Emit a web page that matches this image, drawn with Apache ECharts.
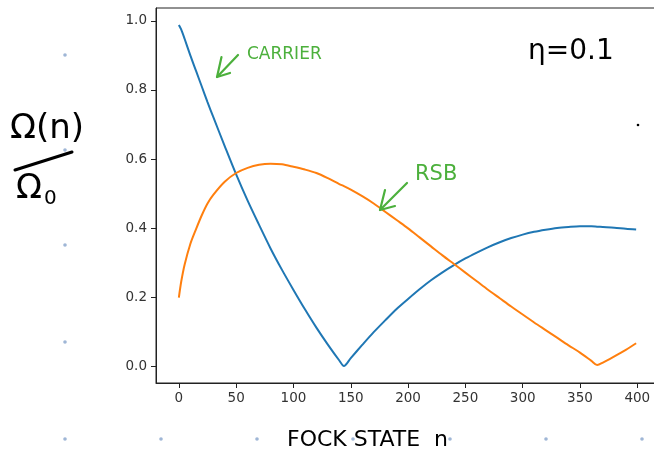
<!DOCTYPE html>
<html><head><meta charset="utf-8">
<script src="https://cdn.jsdelivr.net/npm/echarts@6/dist/echarts.min.js"></script>
<style>html,body{margin:0;padding:0;background:#fff}#c{width:654px;height:453px}</style>
</head><body><div id="c"></div>
<script>
// Fock state n
const fockN = [0,2,5,10,15,20,25,30,40,50,60,70,80,90,100,110,120,130,140,144,150,160,170,180,190,200,210,220,230,240,250,260,270,280,290,300,310,320,330,340,350,360,365,370,380,390,399];
// Carrier Rabi frequency ratio
const carrier = [0.988,0.975,0.948,0.900,0.855,0.810,0.765,0.722,0.638,0.556,0.480,0.410,0.342,0.280,0.222,0.166,0.113,0.064,0.018,0.002,0.025,0.063,0.100,0.134,0.167,0.196,0.224,0.250,0.273,0.294,0.313,0.330,0.346,0.360,0.372,0.382,0.390,0.396,0.401,0.404,0.406,0.406,0.405,0.404,0.402,0.399,0.397];
// Red sideband Rabi frequency ratio
const rsb = [0.200,0.245,0.295,0.355,0.398,0.438,0.472,0.497,0.535,0.560,0.575,0.584,0.587,0.585,0.578,0.570,0.560,0.545,0.528,0.522,0.512,0.493,0.472,0.448,0.424,0.400,0.374,0.348,0.322,0.297,0.272,0.247,0.222,0.198,0.174,0.151,0.128,0.106,0.084,0.062,0.041,0.017,0.005,0.012,0.030,0.049,0.068];
const xTicks = [0,50,100,150,200,250,300,350,400];
const yTicks = [0,0.2,0.4,0.6,0.8,1.0];

const chart = echarts.init(document.getElementById('c'), null, {renderer:'canvas'});
const pairs = a => fockN.map((n,i)=>[n,a[i]]);
const font = 'DejaVu Sans';
const green = '#4cb03c';
const dotColor = '#9fb6d6';
const dots = [[65,55],[65,150],[65,245],[65,342],[65,439],[161,439],[257,439],[353,439],[450,439],[546,439],[642,439]];

const graphic = [];
dots.forEach(d=>graphic.push({type:'circle',shape:{cx:d[0],cy:d[1],r:1.8},style:{fill:dotColor},z:1}));
graphic.push(
  {type:'text',x:10,y:112,style:{text:'Ω(n)',font:'34px "DejaVu Sans"',fill:'#000'},z:10},
  {type:'line',shape:{x1:15,y1:170,x2:72,y2:152},style:{stroke:'#000',lineWidth:3,lineCap:'round'},z:10},
  {type:'text',x:16,y:172,style:{text:'Ω',font:'34px "DejaVu Sans"',fill:'#000'},z:10},
  {type:'text',x:44,y:189,style:{text:'0',font:'20px "DejaVu Sans"',fill:'#000'},z:10},
  {type:'text',x:528,y:38,style:{text:'η=0.1',font:'28px "DejaVu Sans"',fill:'#000'},z:10},
  {type:'circle',shape:{cx:638,cy:125,r:1.3},style:{fill:'#000'},z:10},
  {type:'text',x:247,y:46,style:{text:'CARRIER',font:'17px "DejaVu Sans"',fill:green},z:10},
  {type:'polyline',shape:{points:[[238,55],[217,77]]},style:{stroke:green,lineWidth:2.2,fill:null,lineCap:'round'},z:10},
  {type:'polyline',shape:{points:[[221.5,57],[217,77],[230,73]]},style:{stroke:green,lineWidth:2.2,fill:null,lineCap:'round',lineJoin:'round'},z:10},
  {type:'text',x:415,y:164,style:{text:'RSB',font:'21px "DejaVu Sans"',fill:green},z:10},
  {type:'polyline',shape:{points:[[407,183],[380,210]]},style:{stroke:green,lineWidth:2.2,fill:null,lineCap:'round'},z:10},
  {type:'polyline',shape:{points:[[385,190],[380,210],[395,206]]},style:{stroke:green,lineWidth:2.2,fill:null,lineCap:'round',lineJoin:'round'},z:10},
  {type:'text',x:287,y:429,style:{text:'FOCK STATE  n',font:'22px "DejaVu Sans"',fill:'#000'},z:10}
);

chart.setOption({
  animation:false,
  backgroundColor:'#fff',
  grid:{left:156,top:8,width:503,height:375,show:true,borderColor:'#222',borderWidth:1,backgroundColor:'transparent',outerBoundsMode:'none',containLabel:false},
  xAxis:{type:'value',min:-19.95,max:418.95,
    axisLine:{show:true,onZero:false,lineStyle:{color:'#222',width:1}},
    axisTick:{show:true,length:5,lineStyle:{color:'#222'},customValues:xTicks},
    axisLabel:{show:true,customValues:xTicks,color:'#333',fontFamily:font,fontSize:13.5,margin:8,formatter:v=>String(v)},
    splitLine:{show:false}},
  yAxis:{type:'value',min:-0.047,max:1.037,
    axisLine:{show:true,onZero:false,lineStyle:{color:'#222',width:1}},
    axisTick:{show:true,length:5,lineStyle:{color:'#222'},customValues:yTicks},
    axisLabel:{show:true,customValues:yTicks,color:'#333',fontFamily:font,fontSize:13.5,margin:9,formatter:v=>v.toFixed(1)},
    splitLine:{show:false}},
  series:[
    {type:'line',name:'carrier',data:pairs(carrier),showSymbol:false,smooth:0.3,lineStyle:{color:'#1f77b4',width:2},z:3},
    {type:'line',name:'rsb',data:pairs(rsb),showSymbol:false,smooth:0.3,lineStyle:{color:'#ff7f0e',width:2},z:3}
  ],
  graphic:graphic
});
</script>
</body></html>
